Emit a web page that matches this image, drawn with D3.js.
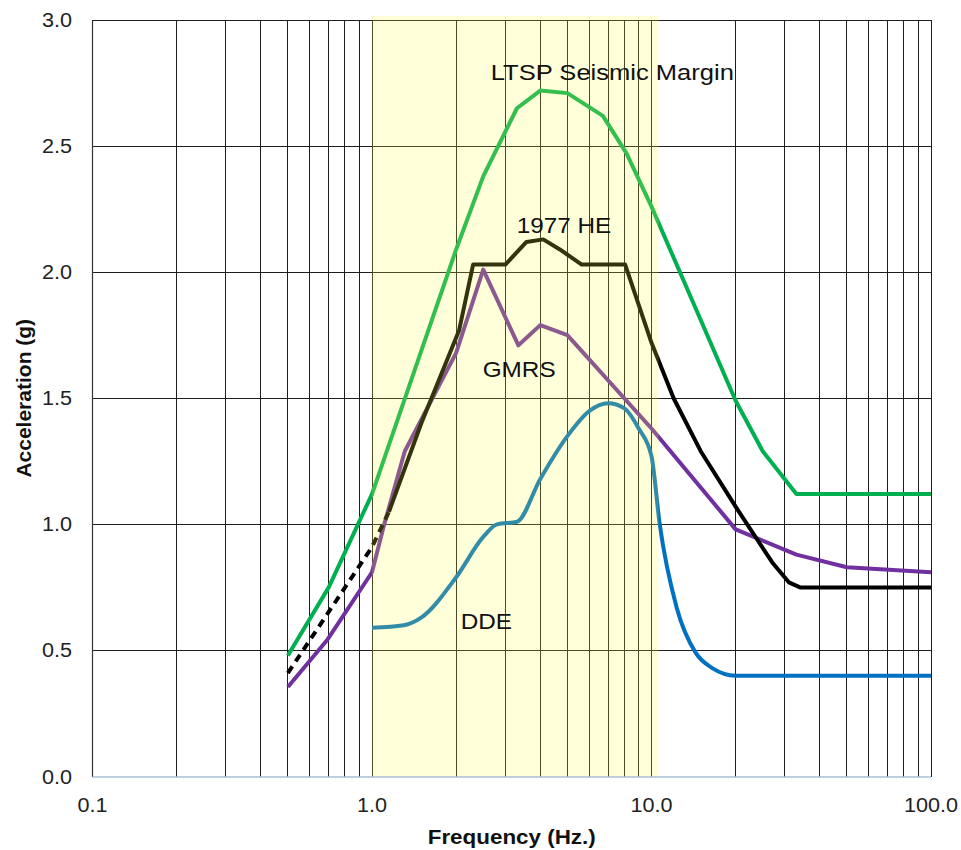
<!DOCTYPE html>
<html>
<head>
<meta charset="utf-8">
<script src="https://cdn.jsdelivr.net/npm/d3@7/dist/d3.min.js"></script>
<style>
  body { margin: 0; background: #fff; }
  text { font-family: "Liberation Sans", Arial, sans-serif; }
</style>
</head>
<body>
<svg width="961" height="850"></svg>
<script>
// ---- data ----
const freqLtsp = [0.5, 0.7, 1.0, 2.0, 2.5, 3.3, 4.0, 5.0, 6.7, 8.15, 10, 15, 20, 25, 33, 100];
const accLtsp  = [0.48, 0.75, 1.12, 2.09, 2.38, 2.65, 2.72, 2.71, 2.62, 2.47, 2.26, 1.81, 1.49, 1.29, 1.12, 1.12];

const freqHeDash = [0.5, 1.0, 1.15];
const accHeDash  = [0.41, 0.91, 1.05];
const freqHe = [1.15, 1.5, 2.05, 2.3, 3.0, 3.57, 4.1, 4.7, 5.63, 8.05, 10, 12, 15, 20, 27, 31, 34, 100];
const accHe  = [1.05, 1.40, 1.77, 2.03, 2.03, 2.12, 2.13, 2.09, 2.03, 2.03, 1.72, 1.5, 1.29, 1.07, 0.85, 0.77, 0.75, 0.75];

const freqGmrs = [0.5, 0.69, 1.0, 1.1, 1.31, 2.0, 2.5, 3.34, 4.0, 5.0, 10, 20, 33, 50, 100];
const accGmrs  = [0.355, 0.54, 0.81, 0.99, 1.29, 1.68, 2.01, 1.71, 1.79, 1.75, 1.38, 0.98, 0.88, 0.83, 0.81];

const freqDde = [1.0, 1.3, 1.5, 2.0, 2.5, 2.8, 3.3, 4.0, 5.0, 6.0, 7.0, 8.0, 9.0, 10.0, 10.7, 12.3, 14.4, 16.5, 20, 100];
const accDde  = [0.59, 0.60, 0.63, 0.79, 0.95, 1.0, 1.01, 1.18, 1.35, 1.45, 1.48, 1.46, 1.38, 1.27, 1.0, 0.67, 0.49, 0.43, 0.40, 0.40];

const xTickLabels = ["0.1", "1.0", "10.0", "100.0"];
const yTicks = [0, 0.5, 1.0, 1.5, 2.0, 2.5, 3.0];
const shadeRange = [1.0, 10.6];

// label text + anchor in data units (freq, accel), stretch factor
const curveLabels = [
  {text: "LTSP Seismic Margin", f: 2.66, a: 2.762, k: 1.135},
  {text: "1977 HE", f: 3.295, a: 2.154, k: 1.08},
  {text: "GMRS", f: 2.489, a: 1.585, k: 1.08},
  {text: "DDE", f: 2.077, a: 0.584, k: 1.08}
];

// ---- layout ----
const svg = d3.select("svg");
const plotL = 92.5, plotR = 931, plotT = 20, plotB = 776.5;

const x = d3.scaleLog().domain([0.1, 100]).range([plotL, plotR]);
const y = d3.scaleLinear().domain([0, 3]).range([plotB, plotT]);

// stretch text a little wider, the reference looks horizontally scaled
function stretch(sel, k) {
  sel.each(function(d) {
    const kk = (d && d.k) || k;
    const w = this.getComputedTextLength();
    d3.select(this).attr("textLength", w * kk).attr("lengthAdjust", "spacingAndGlyphs");
  });
}

// grid
const grid = svg.append("g");
const vTicks = x.ticks(); // 0.1,0.2,...,100
grid.selectAll("line.v").data(vTicks).enter().append("line")
  .attr("x1", d => x(d)).attr("x2", d => x(d))
  .attr("y1", plotT).attr("y2", plotB)
  .attr("stroke", "#1e1e1e").attr("stroke-width", 1)
  .attr("shape-rendering", "crispEdges");
grid.selectAll("line.h").data(yTicks.filter(d => d > 0)).enter().append("line")
  .attr("x1", plotL).attr("x2", plotR)
  .attr("y1", d => Math.round(y(d)) + 0.5).attr("y2", d => Math.round(y(d)) + 0.5)
  .attr("stroke", "#1e1e1e").attr("stroke-width", 1);

// curves
const lineLin = d3.line().x(d => x(d[0])).y(d => y(d[1]));
const lineSmooth = d3.line().x(d => x(d[0])).y(d => y(d[1])).curve(d3.curveMonotoneX);

function draw(fs, as, color, gen, dash) {
  svg.append("path")
    .datum(d3.zip(fs, as))
    .attr("d", gen)
    .attr("fill", "none")
    .attr("stroke", color)
    .attr("stroke-width", 4)
    .attr("stroke-linejoin", "round")
    .attr("stroke-dasharray", dash || null);
}
draw(freqLtsp, accLtsp, "#00b050", lineLin);
draw(freqGmrs, accGmrs, "#7030a0", lineLin);
draw(freqHe, accHe, "#000000", lineLin);
draw(freqHeDash, accHeDash, "#000000", lineLin, "8,6");
draw(freqDde, accDde, "#0070c0", lineSmooth);

// translucent yellow band over everything
svg.append("rect")
  .attr("x", x(shadeRange[0]))
  .attr("y", plotT - 4)
  .attr("width", x(shadeRange[1]) - x(shadeRange[0]))
  .attr("height", plotB - plotT + 4)
  .attr("fill", "rgb(255,255,70)")
  .attr("fill-opacity", 0.2);

// axis frame lines
svg.append("line").attr("x1", plotL).attr("x2", plotL).attr("y1", plotT).attr("y2", plotB)
  .attr("stroke", "#333").attr("stroke-width", 1.2);
svg.append("line").attr("x1", plotL).attr("x2", plotR).attr("y1", plotB + 0.5).attr("y2", plotB + 0.5)
  .attr("stroke", "#a9bfd4").attr("stroke-width", 1.5);

// curve labels
svg.selectAll("text.lab").data(curveLabels).enter().append("text")
  .attr("x", d => x(d.f)).attr("y", d => y(d.a))
  .attr("font-size", 22.5).attr("fill", "#111")
  .text(d => d.text)
  .call(stretch, 1.08);

// y tick labels
svg.selectAll("text.yt").data(yTicks).enter().append("text")
  .attr("x", 72).attr("y", d => y(d) + 7)
  .attr("text-anchor", "end")
  .attr("font-size", 20).attr("fill", "#222")
  .text(d => d.toFixed(1))
  .call(stretch, 1.08);

// x tick labels
svg.selectAll("text.xt").data(xTickLabels).enter().append("text")
  .attr("x", d => x(+d)).attr("y", 812)
  .attr("text-anchor", "middle")
  .attr("font-size", 20).attr("fill", "#222")
  .text(d => d)
  .call(stretch, 1.08);

// axis titles
svg.append("text")
  .attr("x", (plotL + plotR) / 2).attr("y", 844)
  .attr("text-anchor", "middle")
  .attr("font-size", 20).attr("font-weight", "bold").attr("fill", "#111")
  .text("Frequency (Hz.)")
  .call(stretch, 1.12);

svg.append("text")
  .attr("transform", `translate(31,${(plotT + plotB) / 2}) rotate(-90)`)
  .attr("text-anchor", "middle")
  .attr("font-size", 20).attr("font-weight", "bold").attr("fill", "#111")
  .text("Acceleration (g)")
  .call(stretch, 1.05);
</script>
</body>
</html>
